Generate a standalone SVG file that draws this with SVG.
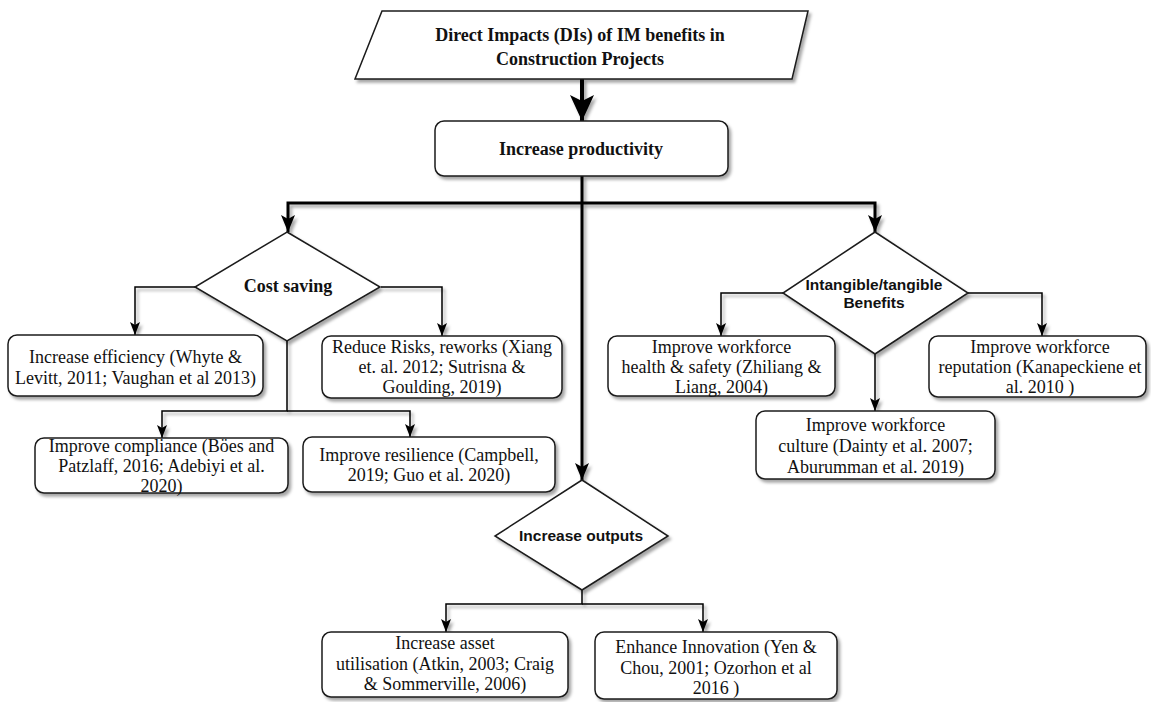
<svg xmlns="http://www.w3.org/2000/svg" width="1151" height="702" viewBox="0 0 1151 702">
  <defs>
    <filter id="shadow" x="-10%" y="-10%" width="130%" height="140%">
      <feDropShadow dx="2.5" dy="3" stdDeviation="1.6" flood-color="#000" flood-opacity="0.35"/>
    </filter>
    <marker id="arrowBig" viewBox="0 0 26 24" refX="26" refY="12" markerWidth="26" markerHeight="24" markerUnits="userSpaceOnUse" orient="auto">
      <path d="M0,0 L26,12 L0,24 L6,12 Z" fill="#000"/>
    </marker>
    <marker id="arrowMid" viewBox="0 0 17 14" refX="17" refY="7" markerWidth="17" markerHeight="14" markerUnits="userSpaceOnUse" orient="auto">
      <path d="M0,0 L17,7 L0,14 L4,7 Z" fill="#000"/>
    </marker>
    <marker id="arrowThin" viewBox="0 0 13 10" refX="13" refY="5" markerWidth="13" markerHeight="10" markerUnits="userSpaceOnUse" orient="auto">
      <path d="M0,0 L13,5 L0,10 L3,5 Z" fill="#000"/>
    </marker>
  </defs>
  <style>
    .node { fill: #fff; stroke: #1a1a1a; stroke-width: 1.5; filter: url(#shadow); }
    .lbl { font-family: "Liberation Serif", "Times New Roman", serif; font-size: 18px; fill: #111; text-anchor: middle; }
    .bold { font-weight: bold; }
    .sans { font-family: "Liberation Sans", Arial, Helvetica, sans-serif; font-size: 15.5px; font-weight: bold; fill: #111; text-anchor: middle; }
    .edge { fill: none; stroke: #000; }
    .thick { stroke-width: 4; }
    .main { stroke-width: 3; }
    .thin { stroke-width: 1.5; }
  </style>
  <rect width="1151" height="702" fill="#fff"/>

  <!-- connectors -->
  <g id="connectors" filter="url(#shadow)">
    <path class="edge thick" d="M582,79 V121" marker-end="url(#arrowBig)"/>
    <path class="edge main" d="M582,176 V480" marker-end="url(#arrowMid)"/>
    <path class="edge main" d="M582,203 H288 V232" marker-end="url(#arrowMid)"/>
    <path class="edge main" d="M582,203 H875 V232" marker-end="url(#arrowMid)"/>
    <path class="edge thin" d="M196,287 H135 V335" marker-end="url(#arrowThin)"/>
    <path class="edge thin" d="M381,287 H442 V336" marker-end="url(#arrowThin)"/>
    <path class="edge thin" d="M287,340 V411 H162 V438" marker-end="url(#arrowThin)"/>
    <path class="edge thin" d="M287,411 H410 V437" marker-end="url(#arrowThin)"/>
    <path class="edge thin" d="M783,293 H721 V336" marker-end="url(#arrowThin)"/>
    <path class="edge thin" d="M968,293 H1042 V336" marker-end="url(#arrowThin)"/>
    <path class="edge thin" d="M875,354 V411" marker-end="url(#arrowThin)"/>
    <path class="edge thin" d="M582,589 V604 H446 V632" marker-end="url(#arrowThin)"/>
    <path class="edge thin" d="M582,604 H703 V632" marker-end="url(#arrowThin)"/>
  </g>

  <!-- title -->
  <g id="title">
    <polygon class="node" points="382,11 808,11 792,79 355,79"/>
    <text class="lbl bold" x="580" y="41">Direct Impacts (DIs) of IM benefits in</text>
    <text class="lbl bold" x="580" y="65">Construction Projects</text>
  </g>

  <g id="productivity">
    <rect class="node" x="435" y="121" width="293" height="55" rx="9"/>
    <text class="lbl bold" x="581" y="155">Increase productivity</text>
  </g>

  <!-- cost saving branch -->
  <g id="cost-saving">
    <polygon class="node" points="287,232 380,287 287,341 195,287"/>
    <text class="lbl bold" x="288" y="292">Cost saving</text>
  </g>

  <g id="efficiency">
    <rect class="node" x="8" y="335" width="255" height="61" rx="9"/>
    <text class="lbl" x="135.5" y="363">Increase efficiency (Whyte &amp;</text>
    <text class="lbl" x="135.5" y="384">Levitt, 2011; Vaughan et al 2013)</text>
  </g>

  <g id="risks">
    <rect class="node" x="322" y="336" width="240" height="62" rx="9"/>
    <text class="lbl" x="442" y="353">Reduce Risks, reworks (Xiang</text>
    <text class="lbl" x="442" y="373">et. al. 2012; Sutrisna &amp;</text>
    <text class="lbl" x="442" y="393">Goulding, 2019)</text>
  </g>

  <g id="compliance">
    <rect class="node" x="35" y="438" width="253" height="55" rx="9"/>
    <text class="lbl" x="161.5" y="452">Improve compliance (Böes and</text>
    <text class="lbl" x="161.5" y="472">Patzlaff, 2016; Adebiyi et al.</text>
    <text class="lbl" x="161.5" y="492">2020)</text>
  </g>

  <g id="resilience">
    <rect class="node" x="303" y="437" width="252" height="55" rx="9"/>
    <text class="lbl" x="429" y="461">Improve resilience (Campbell,</text>
    <text class="lbl" x="429" y="481">2019; Guo et al. 2020)</text>
  </g>

  <!-- intangible/tangible branch -->
  <g id="benefits">
    <polygon class="node" points="875,232 968,293 875,354 783,293"/>
    <text class="sans" x="874" y="290">Intangible/tangible</text>
    <text class="sans" x="874" y="308">Benefits</text>
  </g>

  <g id="health">
    <rect class="node" x="608" y="336" width="227" height="60" rx="9"/>
    <text class="lbl" x="721.5" y="353">Improve workforce</text>
    <text class="lbl" x="721.5" y="373">health &amp; safety (Zhiliang &amp;</text>
    <text class="lbl" x="721.5" y="393">Liang, 2004)</text>
  </g>

  <g id="reputation">
    <rect class="node" x="929" y="336" width="217" height="61" rx="9"/>
    <text class="lbl" x="1040" y="353">Improve workforce</text>
    <text class="lbl" x="1040" y="373">reputation (Kanapeckiene et</text>
    <text class="lbl" x="1040" y="393">al. 2010 )</text>
  </g>

  <g id="culture">
    <rect class="node" x="756" y="411" width="239" height="68" rx="9"/>
    <text class="lbl" x="875.5" y="431">Improve workforce</text>
    <text class="lbl" x="875.5" y="452">culture (Dainty et al. 2007;</text>
    <text class="lbl" x="875.5" y="473">Aburumman et al. 2019)</text>
  </g>

  <!-- outputs branch -->
  <g id="outputs">
    <polygon class="node" points="582,480 668,536 582,590 495,536"/>
    <text class="sans" x="581" y="541">Increase outputs</text>
  </g>

  <g id="asset">
    <rect class="node" x="322" y="632" width="246" height="65" rx="9"/>
    <text class="lbl" x="445" y="649">Increase asset</text>
    <text class="lbl" x="445" y="670">utilisation (Atkin, 2003; Craig</text>
    <text class="lbl" x="445" y="690">&amp; Sommerville, 2006)</text>
  </g>

  <g id="innovation">
    <rect class="node" x="595" y="632" width="242" height="67" rx="9"/>
    <text class="lbl" x="716" y="653">Enhance Innovation (Yen &amp;</text>
    <text class="lbl" x="716" y="674">Chou, 2001; Ozorhon et al</text>
    <text class="lbl" x="716" y="694">2016 )</text>
  </g>
</svg>
